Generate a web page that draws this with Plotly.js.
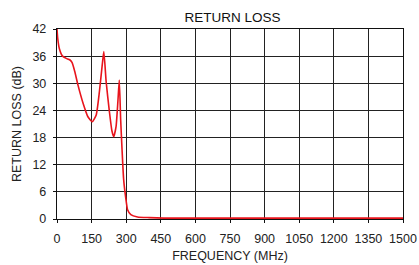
<!DOCTYPE html>
<html>
<head>
<meta charset="utf-8">
<script src="https://cdn.plot.ly/plotly-3.0.1.min.js"></script>
<style>html,body{margin:0;padding:0;background:#fff}#chart{width:419px;height:265px}</style>
</head>
<body>
<div id="chart"></div>
<script>
const freqMHz = [0, 3, 10, 24, 40, 55, 65, 77, 91, 113, 134, 153, 170, 184, 196, 203, 213, 227, 238, 246, 256, 264, 270, 276, 282, 289, 299, 306, 320, 349, 400, 463, 600, 900, 1200, 1500];
const returnLossDb = [42, 40, 37.7, 36, 35.5, 35.2, 34.6, 32.6, 29.6, 25.6, 22.6, 21.5, 23, 28.2, 34, 37, 30.4, 23.8, 19.5, 18.2, 20.4, 26, 30.7, 22, 15.3, 8.7, 4.3, 2.05, 0.95, 0.44, 0.3, 0.2, 0.2, 0.2, 0.2, 0.2];
const xTicks = [0, 150, 300, 450, 600, 750, 900, 1050, 1200, 1350, 1500];
const yTicks = [0, 6, 12, 18, 24, 30, 36, 42];

const font = {family: 'Liberation Sans, Arial, sans-serif', size: 12.5, color: '#222'};
Plotly.newPlot('chart', [{
  x: freqMHz, y: returnLossDb, type: 'scatter', mode: 'lines',
  line: {color: '#e8141c', width: 1.6, shape: 'spline', smoothing: 0.5},
  hoverinfo: 'skip'
}], {
  width: 419, height: 265,
  margin: {l: 57, r: 16, t: 29, b: 46},
  paper_bgcolor: '#fff', plot_bgcolor: '#fff',
  font: font,
  showlegend: false,
  title: {text: 'RETURN LOSS', font: {family: font.family, size: 13.5, color: '#111'}, x: 0.555, xanchor: 'center', y: 0.935, yanchor: 'middle'},
  xaxis: {
    range: [0, 1500], tickvals: xTicks, ticktext: xTicks.map(String),
    showgrid: true, gridcolor: '#222', gridwidth: 1,
    showline: true, linecolor: '#111', linewidth: 1.2, mirror: true,
    ticks: 'outside', ticklen: 3, tickcolor: '#111', zeroline: false,
    ticklabelstandoff: 5, ticklabeloverflow: 'allow',
    tickfont: font,
    title: {text: 'FREQUENCY (MHz)', font: font, standoff: 6}
  },
  yaxis: {
    range: [0, 42], tickvals: yTicks, ticktext: yTicks.map(String),
    showgrid: true, gridcolor: '#222', gridwidth: 1,
    showline: true, linecolor: '#111', linewidth: 1.2, mirror: true,
    ticks: 'outside', ticklen: 3, tickcolor: '#111', zeroline: false,
    ticklabelstandoff: 4,
    tickfont: font,
    title: {text: 'RETURN LOSS (dB)', font: font, standoff: 8}
  }
}, {displayModeBar: false, staticPlot: true});
</script>
</body>
</html>
